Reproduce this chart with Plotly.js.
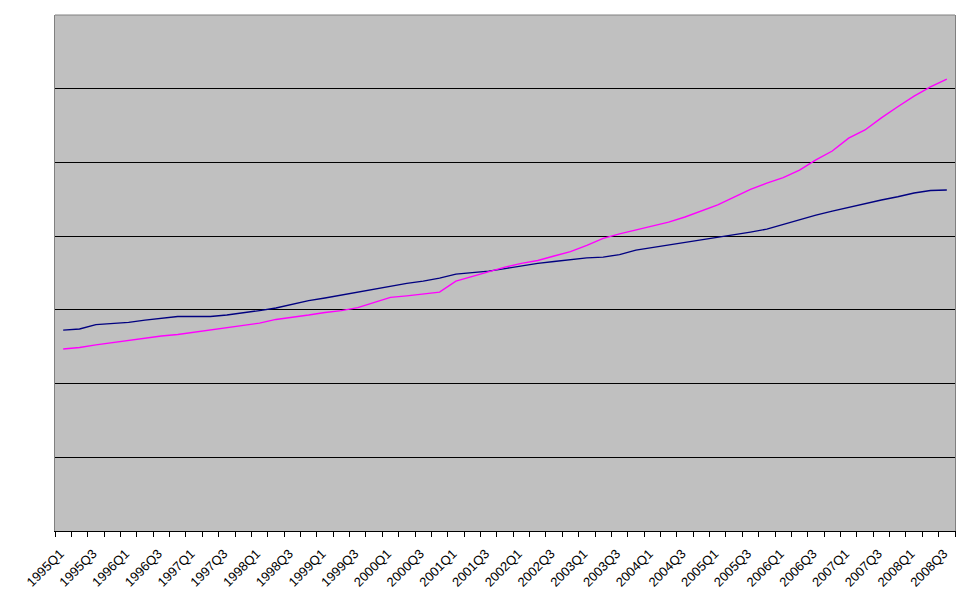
<!DOCTYPE html>
<html>
<head>
<meta charset="utf-8">
<script src="https://cdn.plot.ly/plotly-3.0.1.min.js"></script>
<style>
  html, body { margin: 0; padding: 0; background: #ffffff; }
  #chart { width: 970px; height: 604px; }
</style>
</head>
<body>
<div id="chart"></div>
<script>
// Quarterly series, 1995Q1 - 2008Q3
const quarters = [];
for (let y = 1995; y <= 2008; y++) {
  for (let q = 1; q <= 4; q++) {
    if (y === 2008 && q === 4) break;
    quarters.push(y + "Q" + q);
  }
}

const blueSeries = [
  54.5, 54.8, 56.0, 56.3, 56.6, 57.2, 57.8, 58.2, 58.2, 58.2,
  58.6, 59.1, 59.8, 60.5, 61.6, 62.5, 63.2, 64.0, 64.8, 65.7,
  66.6, 67.2, 67.8, 68.6, 69.7, 70.1, 70.5, 71.2, 72.0, 72.6,
  73.1, 73.7, 74.1, 74.3, 75.0, 76.2, 76.9, 77.5, 78.1, 78.8,
  79.6, 80.3, 81.1, 81.9, 83.2, 84.4, 85.7, 86.8, 87.8, 89.0,
  89.8, 90.7, 91.7, 92.4, 92.5
];

const magentaSeries = [
  49.4, 49.8, 50.5, 51.1, 51.8, 52.2, 52.9, 53.3, 53.9, 54.5,
  55.2, 55.8, 56.4, 57.4, 57.9, 58.6, 59.3, 59.8, 60.6, 62.1,
  63.4, 63.8, 64.3, 64.8, 67.8, 69.1, 70.4, 71.6, 72.6, 73.4,
  74.6, 75.8, 77.5, 79.4, 80.6, 81.7, 82.8, 83.8, 85.2, 86.8,
  88.5, 90.6, 92.7, 94.4, 95.9, 97.9, 100.7, 103.1, 106.6, 108.8,
  112.1, 115.1, 118.0, 120.5, 122.6
];

// category positions; label every second quarter
const xIndex = quarters.map((q, i) => i);
const labelVals = xIndex.filter((i) => i % 2 === 0);
const labelText = labelVals.map((i) => quarters[i]);

const traces = [
  {
    type: "scatter",
    mode: "lines",
    x: xIndex,
    y: blueSeries,
    text: quarters,
    line: { color: "#000080", width: 1.4 },
    showlegend: false,
  },
  {
    type: "scatter",
    mode: "lines",
    x: xIndex,
    y: magentaSeries,
    text: quarters,
    line: { color: "#ff00ff", width: 1.4 },
    showlegend: false,
  },
];

const layout = {
  width: 970,
  height: 604,
  paper_bgcolor: "#ffffff",
  plot_bgcolor: "#c0c0c0",
  margin: { l: 55, r: 15, t: 15, b: 73 },
  font: { family: "Arial, 'Liberation Sans', sans-serif", size: 13, color: "#000000" },
  xaxis: {
    type: "linear",
    range: [-0.5, quarters.length - 0.5],
    tickmode: "array",
    tickvals: labelVals,
    ticktext: labelText,
    tickangle: -45,
    ticks: "",
    ticklabelstandoff: 9,
    ticklabelshift: -3,
    showgrid: false,
    zeroline: false,
    showline: true,
    linecolor: "#000000",
    linewidth: 1,
    tickfont: { size: 13, color: "#000000" },
    minor: {
      ticks: "outside",
      tick0: -0.5,
      dtick: 1,
      ticklen: 5,
      tickwidth: 1,
      tickcolor: "#000000",
      showgrid: false,
    },
  },
  yaxis: {
    range: [0, 140],
    dtick: 20,
    showticklabels: false,
    ticks: "",
    showgrid: true,
    gridcolor: "#000000",
    gridwidth: 1,
    zeroline: false,
    showline: true,
    linecolor: "#808080",
    linewidth: 1,
    mirror: true,
  },
  shapes: [
    {
      type: "line",
      xref: "paper",
      yref: "paper",
      x0: 0,
      x1: 1,
      y0: 1,
      y1: 1,
      line: { color: "#808080", width: 1 },
    },
  ],
};

Plotly.newPlot("chart", traces, layout, { displayModeBar: false, staticPlot: true });
</script>
</body>
</html>
